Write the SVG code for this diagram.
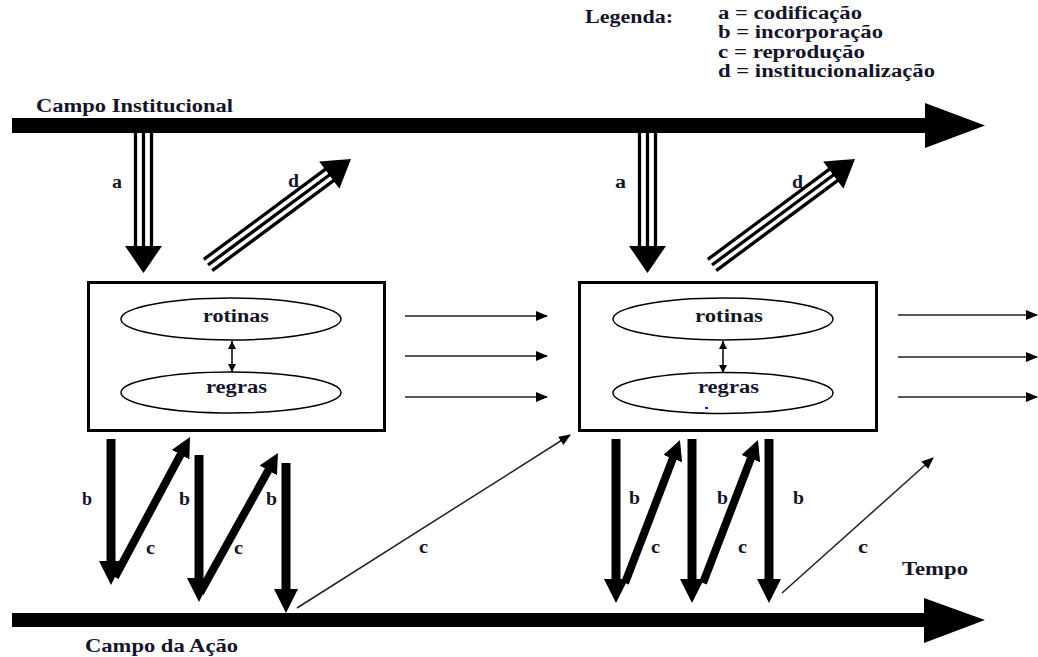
<svg xmlns="http://www.w3.org/2000/svg" width="1038" height="657" viewBox="0 0 1038 657">
<style>
text{font-family:"Liberation Serif","Times New Roman",serif;font-weight:bold;font-size:18px;fill:#15152a}
.box{fill:#fff;stroke:#000;stroke-width:3}
.ell{fill:#fff;stroke:#000;stroke-width:1.5}
.thick{stroke:#000;stroke-width:9;fill:none}
.thickc{stroke:#000;stroke-width:8;fill:none}
.trip{stroke:#000;stroke-width:3.3;fill:none}
.thin{stroke:#222;stroke-width:1.5;fill:none}
.small{stroke:#000;stroke-width:1.5;fill:none}
</style>
<defs>
<marker id="hb" markerUnits="userSpaceOnUse" viewBox="0 0 24 24" markerWidth="24" markerHeight="24" refX="2" refY="12" orient="auto"><path d="M0,0 L24,12 L0,24 z" fill="#000"/></marker>
<marker id="hc" markerUnits="userSpaceOnUse" viewBox="0 0 20 20" markerWidth="20" markerHeight="20" refX="2" refY="10" orient="auto"><path d="M0,0 L20,10 L0,20 z" fill="#000"/></marker>
<marker id="ht" markerUnits="userSpaceOnUse" viewBox="0 0 12 12" markerWidth="12" markerHeight="12" refX="11" refY="6" orient="auto"><path d="M0,1 L12,6 L0,11 z" fill="#000"/></marker>
<marker id="hs" markerUnits="userSpaceOnUse" viewBox="0 0 8 8" markerWidth="8" markerHeight="8" refX="8" refY="4" orient="auto-start-reverse"><path d="M0,0 L8,4 L0,8 z" fill="#000"/></marker>
<g id="triA"><line x1="-8" y1="0" x2="-8" y2="114" class="trip"/><line x1="0" y1="0" x2="0" y2="114" class="trip"/><line x1="8" y1="0" x2="8" y2="114" class="trip"/><polygon points="-18.5,113 18.5,113 0,140" fill="#000"/></g>
<g id="triD"><line x1="0" y1="-7" x2="154" y2="-7" class="trip"/><line x1="0" y1="0" x2="154" y2="0" class="trip"/><line x1="0" y1="7" x2="154" y2="7" class="trip"/><polygon points="151,-17 178,0 151,17" fill="#000"/></g>
</defs>
<rect width="1038" height="657" fill="#fff"/>

<g id="campo-institucional">
<rect x="12" y="118" width="914" height="15" fill="#000"/>
<polygon points="925,103 985,125.5 925,148" fill="#000"/>
<text x="36" y="111.5" textLength="197" lengthAdjust="spacingAndGlyphs">Campo Institucional</text>
</g>

<g id="campo-acao">
<rect x="12" y="613" width="913" height="14" fill="#000"/>
<polygon points="924,598 985,620 924,643" fill="#000"/>
<text x="85" y="652" textLength="153" lengthAdjust="spacingAndGlyphs">Campo da Ação</text>
<text x="902" y="575" textLength="66" lengthAdjust="spacingAndGlyphs">Tempo</text>
</g>

<g id="legenda">
<text x="585" y="23" textLength="88" lengthAdjust="spacingAndGlyphs">Legenda:</text>
<text x="718" y="19" textLength="144" lengthAdjust="spacingAndGlyphs">a = codificação</text>
<text x="718" y="38" textLength="165" lengthAdjust="spacingAndGlyphs">b = incorporação</text>
<text x="718" y="57.5" textLength="147" lengthAdjust="spacingAndGlyphs">c = reprodução</text>
<text x="718" y="77" textLength="217" lengthAdjust="spacingAndGlyphs">d = institucionalização</text>
</g>

<g id="box1">
<rect x="88.5" y="282.5" width="296" height="148" class="box"/>
<ellipse cx="231" cy="319" rx="110" ry="21" class="ell"/>
<ellipse cx="231" cy="392.5" rx="110" ry="20.5" class="ell"/>
<text x="203" y="322" textLength="66" lengthAdjust="spacingAndGlyphs">rotinas</text>
<text x="206" y="393" textLength="61" lengthAdjust="spacingAndGlyphs">regras</text>
<line x1="232" y1="341" x2="232" y2="372" class="small" marker-start="url(#hs)" marker-end="url(#hs)"/>
</g>

<g id="box2">
<rect x="579.5" y="282.5" width="297" height="148" class="box"/>
<ellipse cx="723" cy="319" rx="110" ry="21" class="ell"/>
<ellipse cx="723" cy="393" rx="110" ry="20.5" class="ell"/>
<text x="695" y="322" textLength="68" lengthAdjust="spacingAndGlyphs">rotinas</text>
<text x="698" y="393" textLength="61" lengthAdjust="spacingAndGlyphs">regras</text>
<line x1="723" y1="341" x2="723" y2="373" class="small" marker-start="url(#hs)" marker-end="url(#hs)"/>
<rect x="705" y="407" width="3" height="2" fill="#1020e0"/>
</g>

<g id="connectors">
<use href="#triA" transform="translate(143.5,133)"/>
<use href="#triA" transform="translate(647.5,133)"/>
<use href="#triD" transform="translate(208,265) rotate(-36.55)"/>
<use href="#triD" transform="translate(712,265) rotate(-36.55)"/>

<line x1="405" y1="316" x2="547" y2="316" class="thin" marker-end="url(#ht)"/>
<line x1="405" y1="356" x2="547" y2="356" class="thin" marker-end="url(#ht)"/>
<line x1="405" y1="397" x2="547" y2="397" class="thin" marker-end="url(#ht)"/>
<line x1="898" y1="315" x2="1037" y2="315" class="thin" marker-end="url(#ht)"/>
<line x1="898" y1="357" x2="1037" y2="357" class="thin" marker-end="url(#ht)"/>
<line x1="898" y1="397" x2="1037" y2="397" class="thin" marker-end="url(#ht)"/>

<line x1="111" y1="439" x2="111" y2="563" class="thick" marker-end="url(#hb)"/>
<line x1="115" y1="577" x2="181.5" y2="452.9" class="thickc" marker-end="url(#hc)"/>
<line x1="199" y1="455" x2="199" y2="580" class="thick" marker-end="url(#hb)"/>
<line x1="200" y1="593" x2="269.2" y2="468.7" class="thickc" marker-end="url(#hc)"/>
<line x1="286" y1="463" x2="286" y2="591" class="thick" marker-end="url(#hb)"/>
<line x1="297" y1="608" x2="570" y2="435" class="thin" marker-end="url(#ht)"/>

<line x1="616" y1="439" x2="616" y2="581" class="thick" marker-end="url(#hb)"/>
<line x1="625" y1="583" x2="673.5" y2="456.8" class="thickc" marker-end="url(#hc)"/>
<line x1="692" y1="439" x2="692" y2="581" class="thick" marker-end="url(#hb)"/>
<line x1="703" y1="583" x2="751.5" y2="456.8" class="thickc" marker-end="url(#hc)"/>
<line x1="769" y1="439" x2="769" y2="581" class="thick" marker-end="url(#hb)"/>
<line x1="782" y1="593" x2="933" y2="458" class="thin" marker-end="url(#ht)"/>

<g id="edge-labels">
<text x="112" y="188" textLength="10" lengthAdjust="spacingAndGlyphs">a</text>
<text x="615" y="188" textLength="11" lengthAdjust="spacingAndGlyphs">a</text>
<text x="288" y="187" textLength="11" lengthAdjust="spacingAndGlyphs">d</text>
<text x="792" y="188" textLength="11" lengthAdjust="spacingAndGlyphs">d</text>
<text x="82" y="505" textLength="10" lengthAdjust="spacingAndGlyphs">b</text>
<text x="179" y="505" textLength="11" lengthAdjust="spacingAndGlyphs">b</text>
<text x="266" y="505" textLength="11" lengthAdjust="spacingAndGlyphs">b</text>
<text x="146" y="554" textLength="9" lengthAdjust="spacingAndGlyphs">c</text>
<text x="234" y="554" textLength="9" lengthAdjust="spacingAndGlyphs">c</text>
<text x="419" y="553" textLength="9" lengthAdjust="spacingAndGlyphs">c</text>
<text x="629" y="504" textLength="11" lengthAdjust="spacingAndGlyphs">b</text>
<text x="717" y="504" textLength="11" lengthAdjust="spacingAndGlyphs">b</text>
<text x="793" y="504" textLength="11" lengthAdjust="spacingAndGlyphs">b</text>
<text x="651" y="553" textLength="9" lengthAdjust="spacingAndGlyphs">c</text>
<text x="738" y="553" textLength="9" lengthAdjust="spacingAndGlyphs">c</text>
<text x="858" y="553" textLength="10" lengthAdjust="spacingAndGlyphs">c</text>
</g>
</g>
</svg>
